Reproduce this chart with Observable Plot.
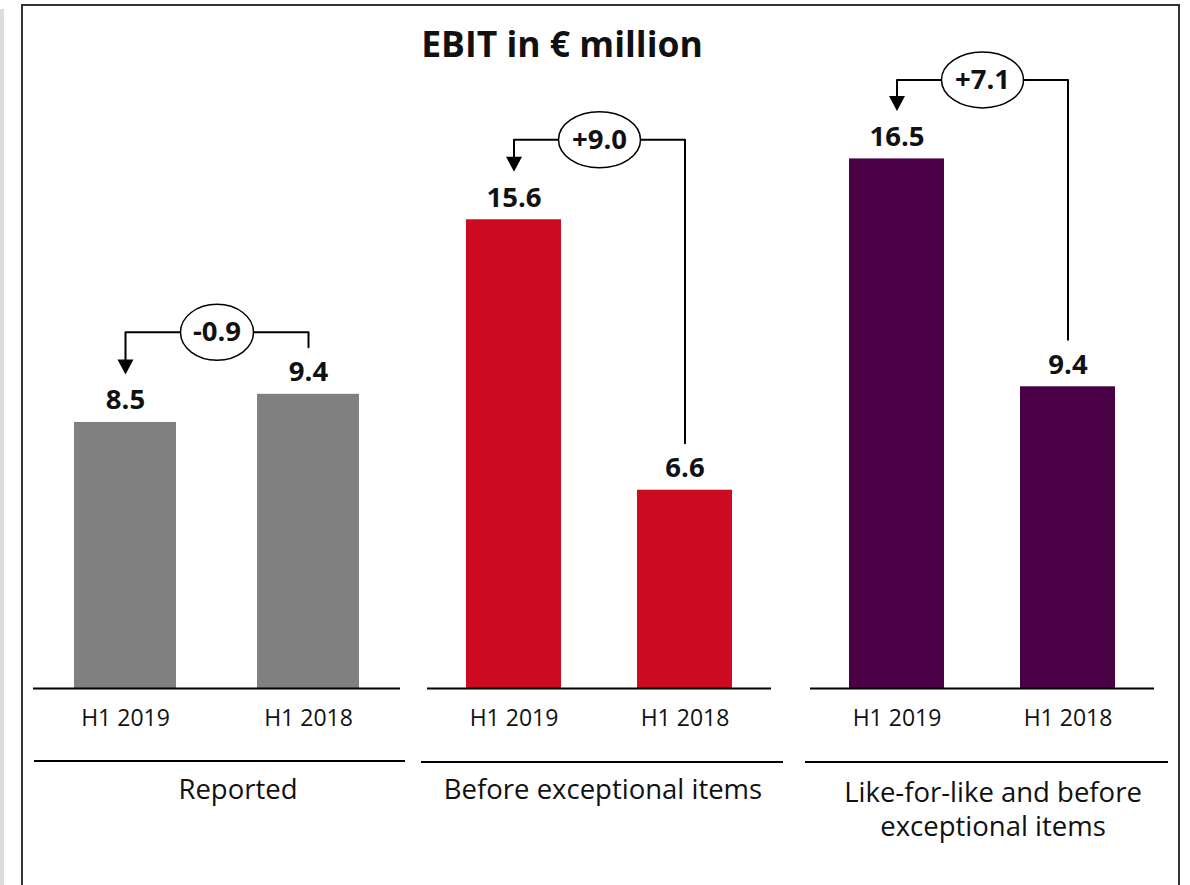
<!DOCTYPE html>
<html><head><meta charset="utf-8">
<script src="https://cdn.jsdelivr.net/npm/d3@7"></script>
<script src="https://cdn.jsdelivr.net/npm/@observablehq/plot@0.6"></script>
<style>
body{margin:0;background:#fff;font-family:"Open Sans",sans-serif;color:#111;}
#root{position:relative;width:1190px;height:885px;overflow:hidden;background:#fff;}
.strip{position:absolute;left:0;top:9px;width:4px;height:880px;background:#dcdcdc;}
.frame{position:absolute;left:21px;top:4px;width:1159px;height:920px;border:2px solid #333;box-sizing:border-box;}
.title{position:absolute;left:312px;width:500px;top:23px;text-align:center;font-weight:bold;font-size:35.5px;line-height:40px;}
.glabel{position:absolute;text-align:center;font-size:27.5px;line-height:34px;width:440px;}
.gline{position:absolute;height:2px;background:#000;}
.panel{position:absolute;top:0;}
</style>
</head><body>
<div id="root">
  <div class="strip"></div>
  <div class="frame"></div>
  <div class="title">EBIT in € million</div>
</div>
<script>
// ---- data ----
const groups = ["Reported", "Before exceptional items", "Like-for-like and before\nexceptional items"];
const periods = ["H1 2019", "H1 2018"];
const ebit2019 = [8.5, 15.6, 16.5];
const ebit2018 = [9.4, 6.6, 9.4];
const colors = ["#808080", "#cc0a21", "#4a0044"];

// ---- layout / style settings ----
const panelLeft = [23, 417, 800];
const panelWidth = [387, 364, 364];
const yMax = [20.45, 21.3, 19.94];
const levelGap = [62, 80, 79];
const ellipseRx = [36.5, 41, 41];
const groupLine = [[34, 405, 761], [421, 783, 762], [805, 1168, 762]];
const groupLabelCenter = [238, 603, 993];
const groupLabelTop = [772, 772, 775];

const root = document.getElementById("root");

function ellipseSymbol(rx, ry) {
  const k = 0.5523;
  return {draw(c) {
    c.moveTo(rx, 0);
    c.bezierCurveTo(rx, ry * k, rx * k, ry, 0, ry);
    c.bezierCurveTo(-rx * k, ry, -rx, ry * k, -rx, 0);
    c.bezierCurveTo(-rx, -ry * k, -rx * k, -ry, 0, -ry);
    c.bezierCurveTo(rx * k, -ry, rx, -ry * k, rx, 0);
    c.closePath();
  }};
}
const arrowHead = {draw(c) {
  c.moveTo(-8, -15); c.lineTo(8, -15); c.lineTo(0, 0); c.closePath();
}};

groups.forEach((g, i) => {
  const D = yMax[i];
  const ppu = 640 / D;
  const u = px => px / ppu;
  const v1 = ebit2019[i], v2 = ebit2018[i];
  const data = [{period: periods[0], value: v1}, {period: periods[1], value: v2}];
  const diff = v1 - v2;
  const delta = (diff >= 0 ? "+" : "") + diff.toFixed(1);
  const level = Math.max(v1, v2) + u(levelGap[i]);
  const tip = v1 + u(48);
  const rightEnd = v2 + u(47);
  const path = [
    {period: periods[0], y: tip + u(10)},
    {period: periods[0], y: level},
    {period: periods[1], y: level},
    {period: periods[1], y: rightEnd}
  ];
  const chart = Plot.plot({
    width: panelWidth[i], height: 740,
    marginLeft: 10, marginRight: 10, marginTop: 48, marginBottom: 52,
    style: {background: "transparent", fontFamily: "Open Sans", fontSize: "23px", color: "#111", overflow: "visible"},
    x: {domain: periods, paddingInner: 0.445, paddingOuter: 0.225, label: null},
    y: {domain: [0, D], axis: null},
    marks: [
      Plot.barY(data, {x: "period", y: "value", fill: colors[i]}),
      Plot.ruleY([0], {stroke: "#000", strokeWidth: 2}),
      Plot.axisX({tickSize: 0, tickPadding: 21, fontSize: 23, fill: "#111", label: null}),
      Plot.text(data, {x: "period", y: "value", text: d => d.value.toFixed(1), dy: -22, fontWeight: "bold", fontSize: 27.5, fill: "#111"}),
      Plot.line(path, {x: "period", y: "y", stroke: "#000", strokeWidth: 2}),
      Plot.dot([tip], {x: () => periods[0], y: d => d, symbol: arrowHead, fill: "#000", stroke: "none"}),
      Plot.dot([level], {y: d => d, symbol: ellipseSymbol(ellipseRx[i], 28), fill: "white", stroke: "#000", strokeWidth: 1.5}),
      Plot.text([delta], {y: () => level, text: d => d, fontWeight: "bold", fontSize: 27.5, fill: "#111"})
    ]
  });
  chart.classList.add("panel");
  chart.style.left = panelLeft[i] + "px";
  chart.style.position = "absolute";
  chart.style.top = "0px";
  chart.style.maxWidth = "none";
  root.appendChild(chart);

  const gl = document.createElement("div");
  gl.className = "gline";
  gl.style.left = groupLine[i][0] + "px";
  gl.style.width = (groupLine[i][1] - groupLine[i][0]) + "px";
  gl.style.top = (groupLine[i][2] - 1) + "px";
  root.appendChild(gl);

  const lab = document.createElement("div");
  lab.className = "glabel";
  lab.style.left = (groupLabelCenter[i] - 220) + "px";
  lab.style.top = groupLabelTop[i] + "px";
  lab.innerHTML = g.split("\n").join("<br>");
  root.appendChild(lab);
});
</script>
</body></html>
